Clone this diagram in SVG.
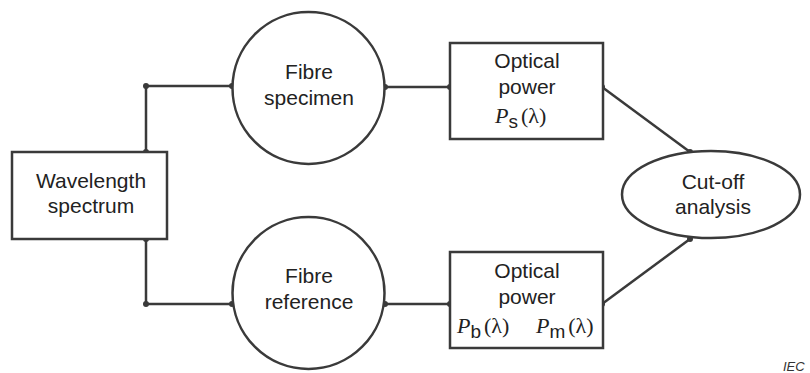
<svg xmlns="http://www.w3.org/2000/svg" width="810" height="373" viewBox="0 0 810 373">
<style>
.s{fill:#fff;stroke:#3a3a3a;stroke-width:2.5}
.c{fill:none;stroke:#3a3a3a;stroke-width:2.5}
.d{fill:#3a3a3a}
.t{font-family:"Liberation Sans",Arial,sans-serif;font-size:21px;fill:#222;text-anchor:middle}
.m{font-family:"Liberation Serif","Times New Roman",serif;font-size:22px;fill:#222}
.i{font-style:italic}
.sub{font-family:"Liberation Sans",Arial,sans-serif;font-size:19px}
</style>
<rect width="810" height="373" fill="#fff"/>
<g id="connectors">
<polyline class="c" points="146,152 146,86 232,86"/>
<polyline class="c" points="146,239 146,304 232,304"/>
<line class="c" x1="385" y1="87" x2="450" y2="87"/>
<line class="c" x1="385" y1="304" x2="450" y2="304"/>
<line class="c" x1="602" y1="87" x2="690" y2="152"/>
<line class="c" x1="602" y1="304" x2="690" y2="239"/>
<g class="d">
<circle cx="146" cy="152" r="3"/><circle cx="146" cy="86" r="3"/><circle cx="232" cy="86" r="3"/>
<circle cx="146" cy="239" r="3"/><circle cx="146" cy="304" r="3"/><circle cx="232" cy="304" r="3"/>
<circle cx="385" cy="87" r="3"/><circle cx="450" cy="87" r="3"/>
<circle cx="385" cy="304" r="3"/><circle cx="450" cy="304" r="3"/>
<circle cx="602" cy="87" r="3"/><circle cx="690" cy="152" r="3"/>
<circle cx="602" cy="304" r="3"/><circle cx="690" cy="239" r="3"/>
</g>
</g>
<g id="wavelength">
<rect class="s" x="12" y="152" width="155" height="87"/>
<text class="t" x="91" y="188">Wavelength</text>
<text class="t" x="91" y="213">spectrum</text>
</g>
<g id="fibre-specimen">
<circle class="s" cx="308.5" cy="88" r="76"/>
<text class="t" x="309" y="79">Fibre</text>
<text class="t" x="309" y="105">specimen</text>
</g>
<g id="fibre-reference">
<circle class="s" cx="308.5" cy="293" r="76"/>
<text class="t" x="309" y="283">Fibre</text>
<text class="t" x="309" y="309">reference</text>
</g>
<g id="optical-power-s">
<rect class="s" x="450" y="43" width="153" height="96"/>
<text class="t" x="527" y="68">Optical</text>
<text class="t" x="527" y="94">power</text>
<text class="m" x="495" y="123"><tspan class="i">P</tspan><tspan class="sub" dy="5">s</tspan><tspan dy="-5" dx="3">(λ)</tspan></text>
</g>
<g id="optical-power-bm">
<rect class="s" x="450" y="252" width="153" height="96"/>
<text class="t" x="527" y="278">Optical</text>
<text class="t" x="527" y="304">power</text>
<text class="m" x="457" y="333"><tspan class="i">P</tspan><tspan class="sub" dy="5">b</tspan><tspan dy="-5" dx="3">(λ)</tspan></text>
<text class="m" x="536" y="333"><tspan class="i">P</tspan><tspan class="sub" dy="5">m</tspan><tspan dy="-5" dx="3">(λ)</tspan></text>
</g>
<g id="cutoff">
<ellipse class="s" cx="711" cy="194.5" rx="89" ry="43.5"/>
<text class="t" x="713" y="189">Cut-off</text>
<text class="t" x="713" y="214">analysis</text>
</g>
<text x="783" y="371" font-family="Liberation Sans,Arial,sans-serif" font-size="13" font-style="italic" fill="#333">IEC</text>
</svg>
